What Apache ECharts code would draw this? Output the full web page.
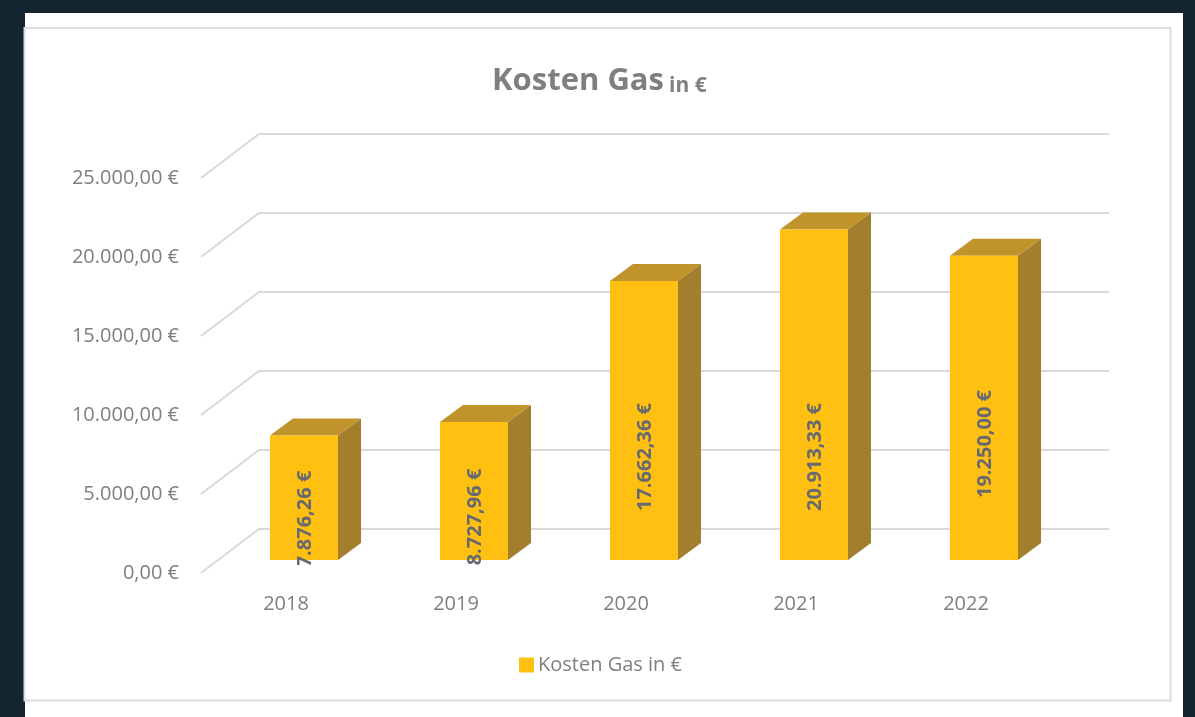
<!DOCTYPE html>
<html>
<head>
<meta charset="utf-8">
<title>Kosten Gas</title>
<style>
  html, body { margin: 0; padding: 0; background: #152530; }
  #chart { width: 1195px; height: 717px; }
</style>
<script src="https://cdn.jsdelivr.net/npm/echarts@6/dist/echarts.min.js"></script>
</head>
<body>
<div id="chart"></div>
<script>
/* ---- Data ---- */
const years = ["2018", "2019", "2020", "2021", "2022"];
const costs = [7876.26, 8727.96, 17662.36, 20913.33, 19250.00];
const yTicks = [0, 5000, 10000, 15000, 20000, 25000];
const seriesName = "Kosten Gas in €";

/* ---- Look ---- */
const FONT = '"Open Sans", sans-serif';
const TEXT = "#7f7f7f";
const GRID = "#d9d9d9";
const WALL = [58, -44];       // back wall offset from the axis plane
const BAR_SHIFT = [18, -13];  // bar front face offset from the axis plane
const DEPTH = [23, -17];      // bar depth
const BAR_W = 68;
const LABEL_RISE = [41, 43, 103, 103, 116]; // label centre above bar base, as placed in the original
const LABEL_CLIP_Y = 565;

const euro = v => v.toLocaleString("de-DE", { minimumFractionDigits: 2, maximumFractionDigits: 2 }) + " €";

function renderWall(params, api) {
  const y = api.coord([0, api.value(0)])[1];
  const left = params.coordSys.x;
  const right = left + params.coordSys.width;
  return {
    type: "polyline",
    shape: { points: [[left, y], [left + WALL[0], y + WALL[1]], [right + WALL[0], y + WALL[1]]] },
    style: { fill: "none", stroke: GRID, lineWidth: 2 },
  };
}

function renderBar(params, api) {
  const top = api.coord([api.value(0), api.value(1)]);
  const base = api.coord([api.value(0), 0]);
  const x0 = top[0] + BAR_SHIFT[0] - BAR_W / 2, x1 = x0 + BAR_W;
  const yT = top[1] + BAR_SHIFT[1], yB = base[1] + BAR_SHIFT[1];
  const dx = DEPTH[0], dy = DEPTH[1];
  return {
    type: "group",
    children: [
      { type: "polygon", shape: { points: [[x1, yT], [x1 + dx, yT + dy], [x1 + dx, yB + dy], [x1, yB]] }, style: { fill: "#a37e2c" } },
      { type: "polygon", shape: { points: [[x0, yT], [x0 + dx, yT + dy], [x1 + dx, yT + dy], [x1, yT]] }, style: { fill: "#c1942b" } },
      { type: "rect", shape: { x: x0, y: yT, width: BAR_W, height: yB - yT }, style: { fill: "#ffc011" } },
      {
        type: "group",
        clipPath: { type: "rect", shape: { x: x0, y: 0, width: BAR_W, height: LABEL_CLIP_Y } },
        children: [{
          type: "text",
          x: x0 + BAR_W / 2 + 1,
          y: yB - LABEL_RISE[params.dataIndex],
          rotation: Math.PI / 2,
          style: {
            text: euro(api.value(1)), align: "center", verticalAlign: "middle",
            font: 'bold 20px ' + FONT, fill: "#666a70",
          },
        }],
      },
    ],
  };
}

const chart = echarts.init(document.getElementById("chart"), null, { renderer: "canvas" });
chart.setOption({
  animation: false,
  backgroundColor: "#152530",
  title: {
    text: "{a|Kosten Gas} {b|in €}",
    left: 487, top: 48,
    textStyle: {
      rich: {
        a: { fontFamily: FONT, fontSize: 31, color: TEXT, lineHeight: 44, verticalAlign: "bottom" },
        b: { fontFamily: FONT, fontSize: 21, color: TEXT, lineHeight: 44, verticalAlign: "bottom" },
      },
    },
  },
  legend: {
    data: [{ name: seriesName, icon: "rect" }],
    left: 514, top: 650,
    itemWidth: 15, itemHeight: 15, itemGap: 5,
    textStyle: { fontFamily: FONT, fontSize: 20, color: TEXT, padding: [0, 0, 0, -1] },
    selectedMode: false,
  },
  grid: { left: 201, right: 144, top: 178, bottom: 144 },
  xAxis: {
    type: "category", data: years,
    axisLine: { show: false }, axisTick: { show: false },
    axisLabel: { fontFamily: FONT, fontSize: 20, color: TEXT, margin: 21 },
  },
  yAxis: {
    type: "value", min: 0, max: 25000, interval: 5000,
    axisLine: { show: false }, axisTick: { show: false }, splitLine: { show: false },
    axisLabel: { fontFamily: FONT, fontSize: 20, color: TEXT, margin: 22, formatter: v => euro(v) },
  },
  graphic: [
    { type: "rect", z: -2, shape: { x: 25, y: 13, width: 1158, height: 704 }, style: { fill: "#ffffff" } },
    { type: "rect", z: -1, shape: { x: 24.5, y: 28, width: 1146, height: 672.5 }, style: { fill: "none", stroke: "#dedede", lineWidth: 2 } },
  ],
  series: [
    { type: "custom", name: "wall", z: 1, silent: true, clip: false, renderItem: renderWall, encode: { y: 0 }, data: yTicks.map(v => [v]) },
    { type: "custom", name: seriesName, z: 3, silent: true, clip: false, renderItem: renderBar, itemStyle: { color: "#ffc011" }, encode: { x: 0, y: 1 }, data: costs.map((v, i) => [i, v]) },
  ],
});
</script>
</body>
</html>
